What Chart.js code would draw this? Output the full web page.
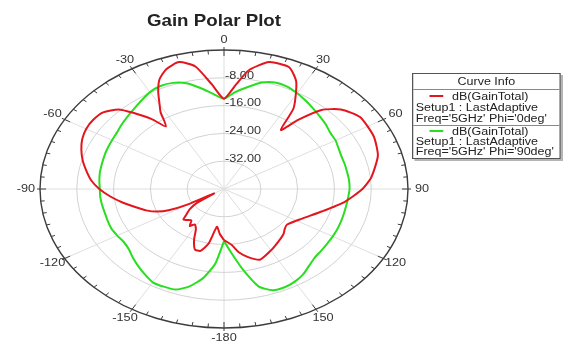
<!DOCTYPE html>
<html>
<head>
<meta charset="utf-8">
<title>Gain Polar Plot</title>
<script src="https://cdn.jsdelivr.net/npm/chart.js@4.4.1/dist/chart.umd.min.js"></script>
<style>
  html, body { margin: 0; padding: 0; background: #fff; }
  #wrap { position: relative; width: 563px; height: 344px; }
  #legend {
    position: absolute; left: 412px; top: 73px; width: 117px;
    transform: scaleX(1.25); transform-origin: 0 0;
    border: 1px solid #555; background: #fff; box-shadow: 2px 2px 0 #b5b5b5;
    font-family: "Liberation Sans", Arial, sans-serif; font-size: 10px; color: #222;
    line-height: 11px; white-space: nowrap;
  }
  #legend .head { height: 15px; line-height: 16px; text-align: center; border-bottom: 1px solid #888; }
  #legend .item { padding: 1px 0 1px 2px; }
  #legend .item + .item { border-top: 1px solid #888; padding-top: 1px; line-height: 10px; }
  #legend .swatch { display: inline-block; width: 11px; height: 2px; margin: 0 7px 3px 11px; vertical-align: middle; }
</style>
</head>
<body>
<div id="wrap">
  <canvas id="polarChart"></canvas>
  <div id="legend"></div>
</div>
<script>
// gain range of the radial axis (dB)
const rMin = -40;
const rMax = 0;
const ringValues = [-32, -24, -16, -8];
const angleTickLabels = [0, 30, 60, 90, 120, 150, -180, -150, -120, -90, -60, -30];

// Phi = 0deg (red)
const redAngles = [-180, -176, -172, -168, -164, -160, -156, -152, -148, -145, -142, -138, -135, -132, -128, -124,
  -120.5, -119.5, -117, -114, -110, -105, -100, -95, -90, -85, -80, -75, -70, -65, -60, -55, -50, -45, -42, -38,
  -35, -32, -30, -27, -24, -20, -15, -10, -5, 0, 5, 9, 15, 22, 27, 33, 36, 39, 43, 48, 55, 65, 74, 84, 90, 98,
  107, 117, 127, 131, 135, 142, 150, 159, 165, 170, 174, 180];
const redGain = [-25.3, -27, -29, -24, -21.5, -21.5, -24, -27, -28, -27, -28.5, -28, -27.5, -29, -30.5, -33,
  -37.5, -31, -26.5, -24, -22, -20, -17.6, -15.2, -12.9, -11, -9.6, -8.2, -7, -6, -5.4, -5.3, -5.7, -7.6, -10.5, -14.5,
  -18, -14, -12, -8.5, -5.5, -3.3, -2.2, -4.2, -9.8, -14, -9.8, -5.4, -2.2, -2.2, -5.4, -12.2, -19, -14.4, -8.9, -5.8, -3.9, -4.1, -5.2, -7.8, -9.9, -13.5,
  -17.8, -21.1, -22.9, -22.5, -21.7, -20.8, -19.6, -18.2, -19.7, -21.5, -23.8, -25.3];

// Phi = 90deg (green)
const greenAngles = [-180, -175, -170, -165, -160, -155, -150, -145, -140, -135, -130, -125, -120, -115, -110, -105,
  -100, -95, -90, -85, -80, -75, -70, -65, -60, -55, -50, -45, -40, -35, -30, -25, -20, -15, -10, -5, 0,
  5, 10, 15, 20, 25, 30, 35, 40, 45, 50, 55, 60, 65, 70, 75, 80, 85, 90, 95, 100, 105, 110, 115, 120, 125,
  130, 135, 140, 145, 150, 155, 160, 165, 170, 175, 180];
const greenGain = [-25, -18.5, -14, -11, -9.2, -9, -9, -10, -11, -12, -13, -13.4, -13.2, -13, -13.1, -13.2,
  -13.1, -13, -13, -12.8, -12.6, -12.5, -12.3, -12.1, -11.9, -11.6, -11, -10.4, -9.7, -8.8, -7.8, -7.3, -7.5, -8.5, -10.5, -12.5, -14,
  -12, -10.2, -8.3, -7.4, -7.5, -8.2, -9, -9.8, -10.5, -11.1, -11.8, -12, -12.5, -12.8, -12.8, -12.8, -12.7, -12.7, -12.9, -13, -13, -12.9, -12.8, -12.7, -12.6,
  -12.4, -12.1, -11.2, -10, -9.2, -8.8, -9, -11, -16.5, -21.5, -25];

const curves = [
  { angles: redAngles, gain: redGain, color: '#e3151d', lines: ['dB(GainTotal)', 'Setup1 : LastAdaptive', "Freq='5GHz' Phi='0deg'"] },
  { angles: greenAngles, gain: greenGain, color: '#27de1f', lines: ['dB(GainTotal)', 'Setup1 : LastAdaptive', "Freq='5GHz' Phi='90deg'"] }
];

const rSpan = rMax - rMin;
const FONT = '"Liberation Sans", Arial, sans-serif';

// polar -> cartesian, 0 deg at top, clockwise
function toXY(angles, gain) {
  return angles.map((a, i) => {
    const t = a * Math.PI / 180;
    const r = Math.max(0, gain[i] - rMin);
    return { x: r * Math.sin(t), y: r * Math.cos(t) };
  });
}

function stretchText(ctx, str, x, y, sx) {
  ctx.save();
  ctx.translate(x, y);
  ctx.scale(sx, 1);
  ctx.fillText(str, 0, 0);
  ctx.restore();
}

const polarGrid = {
  id: 'polarGrid',
  beforeDatasetsDraw(chart) {
    const { ctx, scales: { x, y } } = chart;
    const cx = x.getPixelForValue(0), cy = y.getPixelForValue(0);
    const rx = x.getPixelForValue(rSpan) - cx, ry = cy - y.getPixelForValue(rSpan);
    ctx.save();

    // spokes every 30 deg
    ctx.strokeStyle = '#dedede';
    ctx.lineWidth = 1;
    for (let a = 0; a < 360; a += 30) {
      const t = a * Math.PI / 180;
      ctx.beginPath();
      ctx.moveTo(cx, cy);
      ctx.lineTo(cx + rx * Math.sin(t), cy - ry * Math.cos(t));
      ctx.stroke();
    }
    // rings
    ctx.strokeStyle = '#d2d2d2';
    ringValues.forEach(v => {
      const k = (v - rMin) / rSpan;
      ctx.beginPath();
      ctx.ellipse(cx, cy, rx * k, ry * k, 0, 0, 2 * Math.PI);
      ctx.stroke();
    });
    // outer ring + ticks
    ctx.strokeStyle = '#3c3c3c';
    ctx.lineWidth = 1.4;
    ctx.beginPath();
    ctx.ellipse(cx, cy, rx, ry, 0, 0, 2 * Math.PI);
    ctx.stroke();
    ctx.lineWidth = 1;
    for (let a = 0; a < 360; a += 5) {
      const t = a * Math.PI / 180;
      const px = cx + rx * Math.sin(t), py = cy - ry * Math.cos(t);
      const len = Math.hypot(px - cx, py - cy);
      const dx = (px - cx) / len, dy = (py - cy) / len;
      const major = a % 30 === 0;
      const out = major ? 3 : 0, inn = major ? 6 : 4;
      ctx.beginPath();
      ctx.moveTo(px + dx * out, py + dy * out);
      ctx.lineTo(px - dx * inn, py - dy * inn);
      ctx.stroke();
    }

    // radial labels
    ctx.fillStyle = '#333';
    ctx.font = '10px ' + FONT;
    ctx.textAlign = 'left';
    ctx.textBaseline = 'middle';
    ringValues.slice().reverse().forEach(v => {
      const k = (v - rMin) / rSpan;
      stretchText(ctx, v.toFixed(2), cx + 1, cy - ry * k - 2, 1.27);
    });

    // angle labels
    ctx.textAlign = 'center';
    angleTickLabels.forEach(a => {
      const t = a * Math.PI / 180;
      stretchText(ctx, String(a), cx + (rx + 14) * Math.sin(t), cy - (ry + 10) * Math.cos(t), 1.27);
    });

    // title
    ctx.fillStyle = '#222';
    ctx.font = 'bold 17px ' + FONT;
    stretchText(ctx, 'Gain Polar Plot', 214, 21, 1.1);
    ctx.restore();
  }
};

const canvas = document.getElementById('polarChart');
new Chart(canvas, {
  type: 'scatter',
  data: {
    datasets: curves.map(c => ({
      data: toXY(c.angles, c.gain),
      showLine: true,
      borderColor: c.color,
      borderWidth: 2,
      pointRadius: 0,
      tension: 0.2,
      clip: false
    }))
  },
  options: {
    responsive: true,
    maintainAspectRatio: false,
    animation: false,
    events: [],
    layout: { padding: { left: 40, right: 155, top: 50, bottom: 16 } },
    scales: {
      x: { type: 'linear', min: -rSpan, max: rSpan, display: false },
      y: { type: 'linear', min: -rSpan, max: rSpan, display: false }
    },
    plugins: {
      legend: { display: false },
      tooltip: { enabled: false }
    }
  },
  plugins: [polarGrid]
});

// Curve Info box
const legendBox = document.getElementById('legend');
legendBox.innerHTML = '<div class="head">Curve Info</div>';
curves.forEach(c => {
  const item = document.createElement('div');
  item.className = 'item';
  item.innerHTML = `<div><span class="swatch" style="background:${c.color}"></span>${c.lines[0]}</div>` +
    `<div>${c.lines[1]}</div><div>${c.lines[2]}</div>`;
  legendBox.appendChild(item);
});
</script>
</body>
</html>
